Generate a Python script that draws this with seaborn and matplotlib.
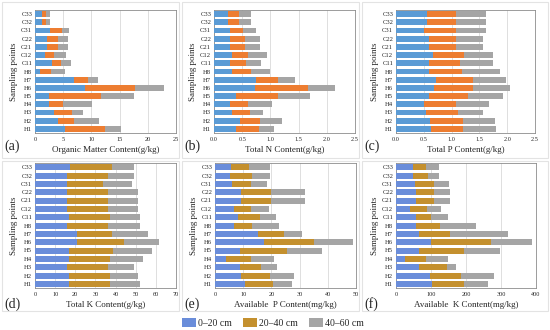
import matplotlib
matplotlib.use("Agg")
import matplotlib.pyplot as plt
from matplotlib.patches import Patch, Rectangle
import numpy as np
import pandas as pd
import seaborn as sns

# sampling points, bottom (H1) to top (C33)
points = ["H1", "H2", "H3", "H4", "H5", "H6", "H7", "H8",
          "C11", "C12", "C21", "C22", "C31", "C32", "C33"]
depths = ["0–20 cm", "20–40 cm", "40–60 cm"]

# layer values per depth (0-20, 20-40, 40-60)
om_0_20 = [5.4, 4.1, 3.4, 2.5, 2.5, 8.8, 6.9, 0.9, 3.0, 1.7, 2.2, 2.2, 2.7, 1.2, 1.2]
om_20_40 = [7.0, 2.9, 3.1, 2.5, 9.2, 9.0, 2.5, 1.9, 1.6, 1.7, 1.8, 1.8, 2.0, 0.7, 0.7]
om_40_60 = [2.9, 4.3, 2.0, 5.1, 5.8, 5.0, 1.8, 2.5, 1.7, 2.1, 1.9, 1.9, 1.3, 0.8, 0.8]

tn_0_20 = [0.39, 0.46, 0.32, 0.28, 0.39, 0.72, 0.74, 0.32, 0.29, 0.32, 0.28, 0.28, 0.29, 0.24, 0.24]
tn_20_40 = [0.40, 0.36, 0.31, 0.32, 0.75, 0.95, 0.40, 0.33, 0.27, 0.28, 0.27, 0.27, 0.23, 0.20, 0.20]
tn_40_60 = [0.28, 0.39, 0.24, 0.42, 0.56, 0.48, 0.29, 0.34, 0.28, 0.34, 0.26, 0.26, 0.23, 0.22, 0.22]

tp_0_20 = [0.63, 0.62, 0.54, 0.51, 0.60, 0.69, 0.72, 0.60, 0.59, 0.66, 0.59, 0.59, 0.51, 0.56, 0.56]
tp_20_40 = [0.57, 0.58, 0.57, 0.57, 0.70, 0.69, 0.67, 0.58, 0.56, 0.57, 0.49, 0.49, 0.57, 0.52, 0.52]
tp_40_60 = [0.60, 0.58, 0.46, 0.60, 0.63, 0.67, 0.59, 0.69, 0.60, 0.52, 0.49, 0.49, 0.54, 0.54, 0.54]

tk_0_20 = [17, 17, 16, 17, 17, 21, 21, 16, 17, 16, 16, 16, 16, 16, 17.4]
tk_20_40 = [20, 20, 20, 20, 21.5, 23, 17, 20, 20, 20, 20, 20, 18, 20, 20.6]
tk_40_60 = [15, 14, 13, 16.5, 19.5, 17.5, 18, 16, 15, 15, 15, 15, 14, 13, 11.3]

ap_0_20 = [10.5, 9.2, 8.8, 4.0, 9.0, 17.2, 15.2, 6.8, 8.3, 6.8, 9.1, 9.1, 5.9, 5.3, 5.6]
ap_20_40 = [9.9, 10.3, 7.4, 8.9, 16.6, 17.8, 9.1, 6.2, 7.5, 5.9, 10.7, 10.7, 6.9, 7.7, 6.6]
ap_40_60 = [6.8, 8.5, 5.9, 8.0, 12.4, 13.8, 6.5, 9.7, 5.8, 6.6, 12.2, 12.2, 5.8, 6.5, 7.3]

ak_0_20 = [103, 98, 66, 27, 65, 101, 65, 58, 58, 41, 58, 58, 55, 48, 48]
ak_20_40 = [92, 87, 79, 58, 130, 169, 90, 69, 42, 48, 50, 50, 53, 42, 38]
ak_40_60 = [67, 94, 25, 63, 101, 119, 165, 102, 48, 40, 45, 45, 44, 32, 36]

panels = [
    ("(a)", "Organic Matter Content(g/kg)", (om_0_20, om_20_40, om_40_60), 25, 5, "{:.0f}"),
    ("(b)", "Total N Content(g/kg)", (tn_0_20, tn_20_40, tn_40_60), 2.5, 0.5, "{:.1f}"),
    ("(c)", "Total P Content(g/kg)", (tp_0_20, tp_20_40, tp_40_60), 2.5, 0.5, "{:.1f}"),
    ("(d)", "Total K Content(g/kg)", (tk_0_20, tk_20_40, tk_40_60), 70, 10, "{:.0f}"),
    ("(e)", "Available  P Content(mg/kg)", (ap_0_20, ap_20_40, ap_40_60), 50, 10, "{:.0f}"),
    ("(f)", "Available  K Content(mg/kg)", (ak_0_20, ak_20_40, ak_40_60), 400, 100, "{:.0f}"),
]

top_colors = ["#5B9BD5", "#ED7D31", "#A5A5A5"]
bottom_colors = ["#6A8DDA", "#C4902E", "#A5A5A5"]

sns.set_theme(style="white")
plt.rcParams["font.family"] = ["Liberation Serif", "DejaVu Serif"]

fig = plt.figure(figsize=(5.5, 3.3), dpi=100)
W, H = 550, 330

# panel frames
for x0, y0, w, h in [(2, 2, 177, 156), (182, 2, 177, 156), (362, 2, 186, 156),
                     (2, 161, 177, 150), (182, 161, 177, 150), (362, 161, 186, 150)]:
    fig.patches.append(Rectangle((x0 / W, 1 - (y0 + h) / H), w / W, h / H,
                                 transform=fig.transFigure, fill=False,
                                 edgecolor="#e3e3e3", linewidth=0.8))

axes_px = [(35, 10, 141, 123), (214, 10, 141, 123), (396, 10, 139, 123),
           (35, 163, 141, 125), (215, 163, 141, 125), (396, 163, 140, 125)]
letter_px = [(4, 146), (184, 146), (364, 146), (4, 304), (184, 304), (364, 304)]

order = points[::-1]
for i, (letter, xlabel, layers, xmax, step, fmt) in enumerate(panels):
    left, top, w, h = axes_px[i]
    ax = fig.add_axes([left / W, 1 - (top + h) / H, w / W, h / H])
    colors = top_colors if i < 3 else bottom_colors
    cum = np.cumsum(np.array(layers), axis=0)
    df = pd.DataFrame({"point": points, "c1": cum[0], "c2": cum[1], "c3": cum[2]})
    # draw totals first, then partial sums on top
    for col, color in zip(["c3", "c2", "c1"], colors[::-1]):
        sns.barplot(data=df, x=col, y="point", order=order, color=color,
                    width=0.72, saturation=1, ax=ax, zorder=3,
                    edgecolor="none", linewidth=0)
    ticks = np.arange(0, xmax + step / 2, step)
    ax.set_xlim(0, xmax)
    ax.set_xticks(ticks)
    ax.set_xticklabels([fmt.format(t) for t in ticks], fontsize=4.5)
    ax.tick_params(axis="y", labelsize=4.8, length=0, pad=2)
    ax.tick_params(axis="x", length=0, pad=3)
    ax.grid(axis="x", color="#d9d9d9", linewidth=0.6, zorder=0)
    ax.set_axisbelow(True)
    for sp in ax.spines.values():
        sp.set_color("#8c8c8c")
        sp.set_linewidth(0.6)
    ax.set_xlabel(xlabel, fontsize=6.5, labelpad=3)
    ax.set_ylabel("Sampling points", fontsize=6.5, labelpad=2)
    lx, ly = letter_px[i]
    fig.text(lx / W, 1 - ly / H, letter, fontsize=10, va="center", ha="left")

handles = [Patch(facecolor=c, edgecolor="none") for c in bottom_colors]
fig.legend(handles, depths, loc="center", bbox_to_anchor=(273 / W, 1 - 323 / H),
           ncol=3, frameon=False, fontsize=7, handlelength=1.4, handleheight=1.0,
           handletextpad=0.2, columnspacing=1.2)

fig.savefig("out.png", dpi=100)
